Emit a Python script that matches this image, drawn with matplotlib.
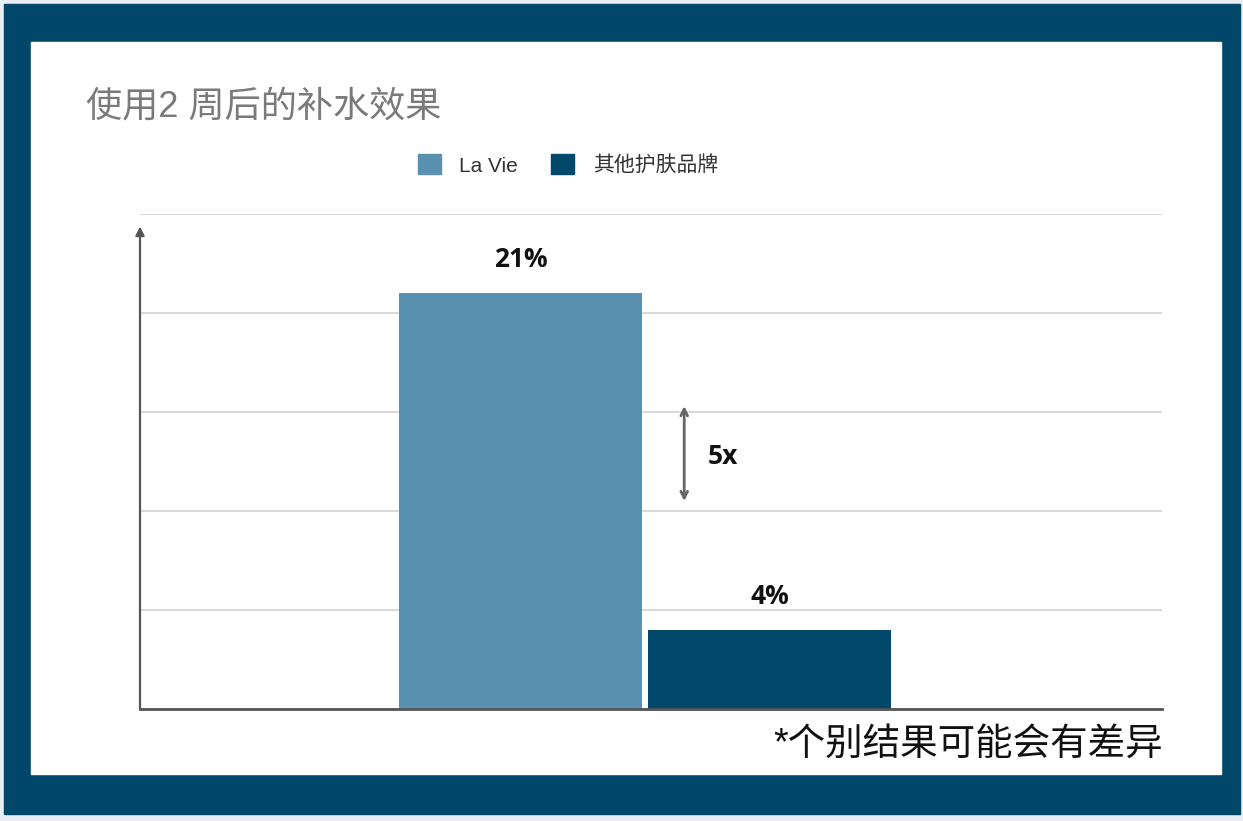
import numpy as np
import matplotlib.pyplot as plt
from matplotlib.patches import Rectangle

plt.rcParams['font.family'] = ['Liberation Sans', 'Noto Sans CJK SC', 'DejaVu Sans']

# data
series = ['La Vie', '其他护肤品牌']
values = [21, 4]
labels = ['21%', '4%']
colors = ['#5A91B1', '#01486A']
ratio_text = '5x'
title = '使用2 周后的补水效果'
note = '*个别结果可能会有差异'

W, H = 1243, 821
fig = plt.figure(figsize=(W / 100, H / 100), dpi=100)
fig.patch.set_facecolor('#E9EEF3')

# frame and white panel (pixel coords -> figure fraction)
def px(x0, y0, x1, y1):
    return (x0 / W, 1 - y1 / H), (x1 - x0) / W, (y1 - y0) / H

xy, w, h = px(4, 4, 1240, 814)
fig.patches.append(Rectangle(xy, w, h, transform=fig.transFigure, color='#01476A', zorder=0))
xy, w, h = px(31, 42, 1221, 774)
fig.patches.append(Rectangle(xy, w, h, transform=fig.transFigure, color='white', zorder=1))

ax = fig.add_axes([140 / W, 1 - 709 / H, 1022 / W, 495 / H])
ax.set_facecolor('none')
ax.set_zorder(2)

bw = 0.4755
gap = 0.012
centre = -0.011
xs = [centre - bw / 2 - gap / 2, centre + bw / 2 + gap / 2]
for x, v, c, lab in zip(xs, values, colors, labels):
    ax.bar(x, v, width=bw, color=c, zorder=3)
    ax.annotate(lab, (x, v), xytext=(0, 24), textcoords='offset points',
                ha='center', va='center', fontsize=19, fontweight='bold',
                family=['Open Sans', 'DejaVu Sans'], color='#111111')

ax.set_xlim(-1, 1)
ax.set_ylim(0, 25)
ax.set_yticks(np.arange(0, 26, 5))
ax.set_xticks([])
ax.tick_params(axis='y', length=0, labelleft=False)
ax.grid(axis='y', color='#D8D8D8', lw=1.4, zorder=0)
for s in ['top', 'right', 'left']:
    ax.spines[s].set_visible(False)
ax.spines['bottom'].set_color('#555555')
ax.spines['bottom'].set_linewidth(2)
ax.spines['bottom'].set_zorder(4)

# y axis arrow
ax.annotate('', xy=(0, 0.975), xytext=(0, 0), xycoords='axes fraction',
            arrowprops=dict(arrowstyle='-|>', color='#555555', lw=1.6,
                            mutation_scale=13, shrinkA=0, shrinkB=0))

# 5x double arrow
ax.annotate('', xy=(0.065, 15.3), xytext=(0.065, 10.5),
            arrowprops=dict(arrowstyle='<->', color='#666666', lw=2,
                            mutation_scale=12, shrinkA=0, shrinkB=0))
ax.text(0.11, 12.75, ratio_text, ha='left', va='center', fontsize=19,
        fontweight='bold', family=['Open Sans', 'DejaVu Sans'], color='#111111')

fig.text(86 / W, 1 - 107 / H, title, fontsize=26, color='#7A7A7A',
         ha='left', va='center')
fig.text(1163 / W, 1 - 745 / H, note, fontsize=27, color='#111111',
         ha='right', va='center')

handles = [Rectangle((0, 0), 1, 1, color=c) for c in colors]
fig.legend(handles, series, loc='center', bbox_to_anchor=(568 / W, 1 - 165 / H),
           ncol=2, frameon=False, fontsize=15, handlelength=1.1, handleheight=1.1,
           handletextpad=0.9, columnspacing=1.6, labelcolor='#333333')

fig.savefig('out.png', dpi=100, facecolor=fig.get_facecolor())
